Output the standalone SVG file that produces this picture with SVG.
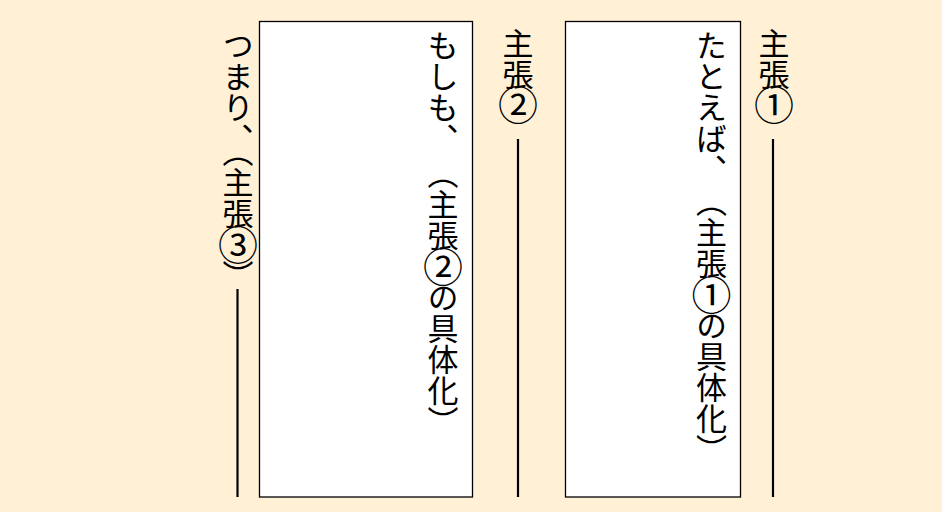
<svg xmlns="http://www.w3.org/2000/svg" width="942" height="512" viewBox="0 0 942 512">
<style>
.bg{fill:#FFF0D6}
.box{fill:#ffffff;stroke:#000000;stroke-width:1.3}
.ln{stroke:#000000;stroke-width:2.2;fill:none}
.t{font-family:"Noto Sans CJK JP","Noto Sans CJK SC",sans-serif;font-size:31px;writing-mode:vertical-rl;fill:#000000}
.c{font-size:40px}
</style>
<rect class="bg" x="0" y="0" width="942" height="512"/>
<g id="claim1-label"><text class="t" x="774" y="28">主張<tspan class="c" dy="-5">①</tspan></text></g>
<g id="box1">
<rect class="box" x="565.5" y="21.5" width="175" height="475.5"/>
<text class="t" x="711.5" y="30">たとえば、</text>
<text class="t" x="711.5" y="186">（主張<tspan class="c" dy="-4">①</tspan><tspan dy="-5">の具体化）</tspan></text>
</g>
<g id="claim2-label"><text class="t" x="518" y="28">主張<tspan class="c" dy="-5">②</tspan></text></g>
<g id="box2">
<rect class="box" x="259.5" y="21.5" width="213" height="475.5"/>
<text class="t" x="443" y="30">もしも、</text>
<text class="t" x="443" y="158">（主張<tspan class="c" dy="-4">②</tspan><tspan dy="-5">の具体化）</tspan></text>
</g>
<g id="claim3">
<text class="t" x="238" y="30">つまり、</text>
<text class="t" x="238" y="136">（主張<tspan class="c" dy="-4">③</tspan><tspan dy="-5">）</tspan></text>
</g>
<g id="connectors">
<line class="ln" x1="773" y1="139" x2="773" y2="497"/>
<line class="ln" x1="518" y1="139" x2="518" y2="497"/>
<line class="ln" x1="237.5" y1="289" x2="237.5" y2="497"/>
</g>
</svg>
